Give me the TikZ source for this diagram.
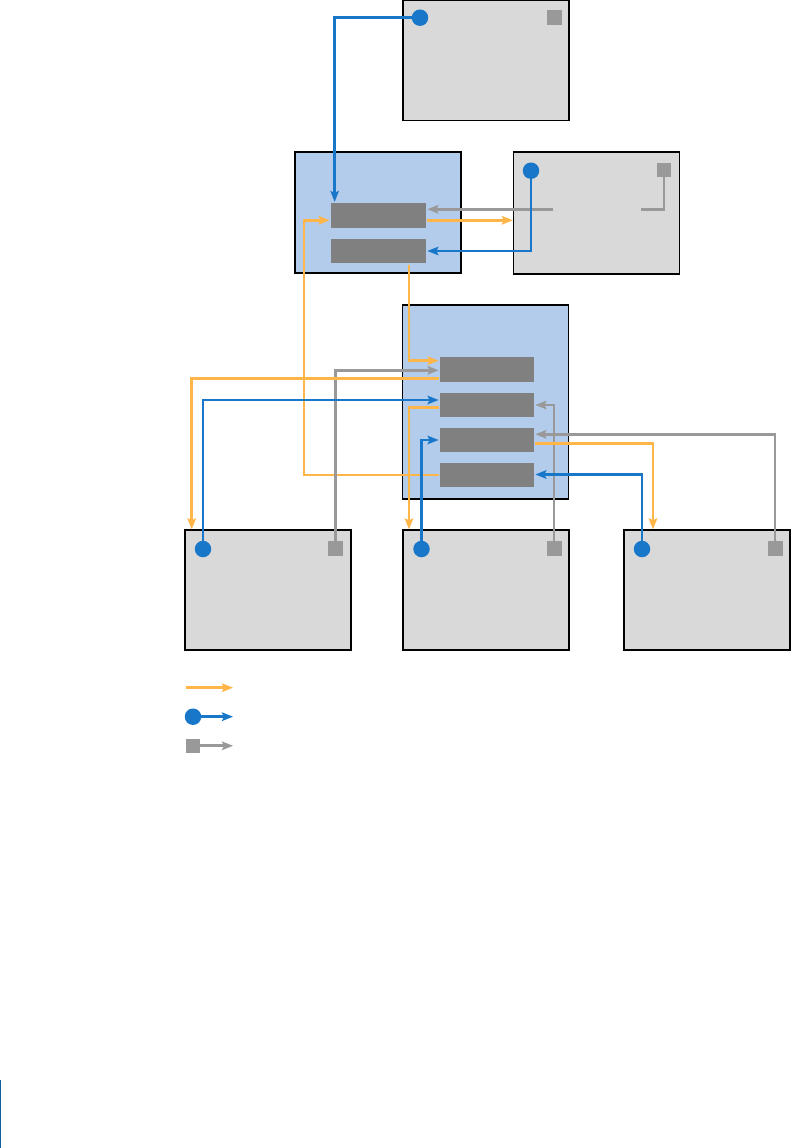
\documentclass[tikz,border=0pt]{standalone}
\usetikzlibrary{arrows.meta}

\begin{document}
\begin{tikzpicture}[x=1pt,y=-1pt, line width=2.7pt,
        hostbox/.style={draw=black, line width=1.3pt, fill=hostcolor, inner sep=0pt, minimum width=166pt, minimum height=120pt},
        cellbox/.style={draw=black, line width=1.3pt, fill=cellcolor, inner sep=0pt, minimum width=166pt},
        slot/.style={fill=slotcolor, inner sep=0pt, minimum width=95pt, minimum height=24.5pt},
        dot/.style={circle, fill=bluecolor, inner sep=0pt, minimum size=16.5pt},
        sq/.style={fill=greycolor, inner sep=0pt, minimum size=15pt},
        tip/.style={-{Stealth[length=11pt,width=8.5pt,inset=2pt]}},
        orangelink/.style={draw=orangecolor, tip},
        bluelink/.style={draw=bluecolor, tip},
        greylink/.style={draw=greycolor, tip}]
        \definecolor{hostcolor}{HTML}{D9D9D9}
        \definecolor{cellcolor}{HTML}{B3CCEC}
        \definecolor{slotcolor}{HTML}{808080}
        \definecolor{orangecolor}{HTML}{FFB547}
        \definecolor{bluecolor}{HTML}{1877C8}
        \definecolor{greycolor}{HTML}{999999}

        \useasboundingbox (0,0) rectangle (792,1148);

        % Draw boxes
        \node[hostbox] (topbox) at (486,60.5) {};
        \node[hostbox, minimum height=122pt] (rightbox) at (596.5,213) {};
        \node[cellbox, minimum height=121pt] (upcell) at (378,212.5) {};
        \node[cellbox, minimum height=194pt] (lowcell) at (485.5,402) {};
        \node[hostbox] (leftbot) at (268,590) {};
        \node[hostbox] (midbot) at (486,590) {};
        \node[hostbox] (rightbot) at (707,590) {};

        % Draw slots
        \node[slot] (u1) at (378.5,215.5) {};
        \node[slot] (u2) at (378.5,251) {};
        \node[slot, minimum width=94pt] (l1) at (487,369.5) {};
        \node[slot, minimum width=94pt] (l2) at (487,405) {};
        \node[slot, minimum width=94pt] (l3) at (487,440) {};
        \node[slot, minimum width=94pt] (l4) at (487,475) {};

        % Draw dots and squares
        \node[dot] (topdot) at (420,17.7) {};
        \node[sq] (topsq) at (554.5,17.5) {};
        \node[dot] (rightdot) at (531,170.7) {};
        \node[sq, minimum size=14pt] (rightsq) at (664,170) {};
        \node[dot] (leftdot) at (203,549) {};
        \node[sq] (leftsq) at (335.7,548.5) {};
        \node[dot] (middot) at (421.5,549) {};
        \node[sq] (midsq) at (554,548.5) {};
        \node[dot] (rbdot) at (642,549) {};
        \node[sq] (rbsq) at (775,548.5) {};

        \coordinate (gapE) at (641,209.3);
        \coordinate (gapW) at (553,209.3);

        % Draw upper links
        \draw[bluelink] (topdot.center) -| ([xshift=5pt]u1.north west);
        \draw[draw=greycolor] (rightsq.center) |- (gapE);
        \draw[greylink] (gapW) -- (u1.east |- gapW);
        \draw[orangelink] (u1.east |- 0,220.3) -- (rightbox.west |- 0,220.3);
        \draw[bluelink] (rightdot.center) |- (u2.east);
        \draw[orangelink] (u2.south -| 409,0) |- (l1.west |- 0,360.7);
        \draw[orangelink] (l4.west) -| (304,220.3) -- (u1.west |- 0,220.3);

        % Draw lower links
        \draw[greylink] (leftsq.center) |- (l1.west |- 0,370.3);
        \draw[orangelink] (l1.west |- 0,378.3) -| (leftbot.north -| 191.7,0);
        \draw[bluelink] (leftdot.center) |- (l2.west |- 0,400);
        \draw[orangelink] (l2.west |- 0,407.3) -| (midbot.north -| 409,0);
        \draw[greylink] (midsq.center) |- (l2.east);
        \draw[bluelink] (middot.center) |- (l3.west);
        \draw[greylink] (rbsq.center) |- (l3.east |- 0,434.3);
        \draw[orangelink] (l3.east |- 0,443.3) -| (rightbot.north -| 653,0);
        \draw[bluelink] (rbdot.center) |- (l4.east |- 0,474.5);

        % Legend
        \coordinate (legA) at (186,687.7);
        \draw[orangelink] (legA) -- ++(47,0);
        \node[dot] (legdot) at (193,716.7) {};
        \draw[bluelink] (legdot.center) -- ++(40,0);
        \node[sq, minimum size=14pt] (legsq) at (193,745.8) {};
        \draw[greylink] (legsq.center) -- ++(40,0);

        % Edge mark
        \draw[line width=1.2pt, draw=bluecolor!80!black] (0.6,1080) -- (0.6,1148);
\end{tikzpicture}
\end{document}
